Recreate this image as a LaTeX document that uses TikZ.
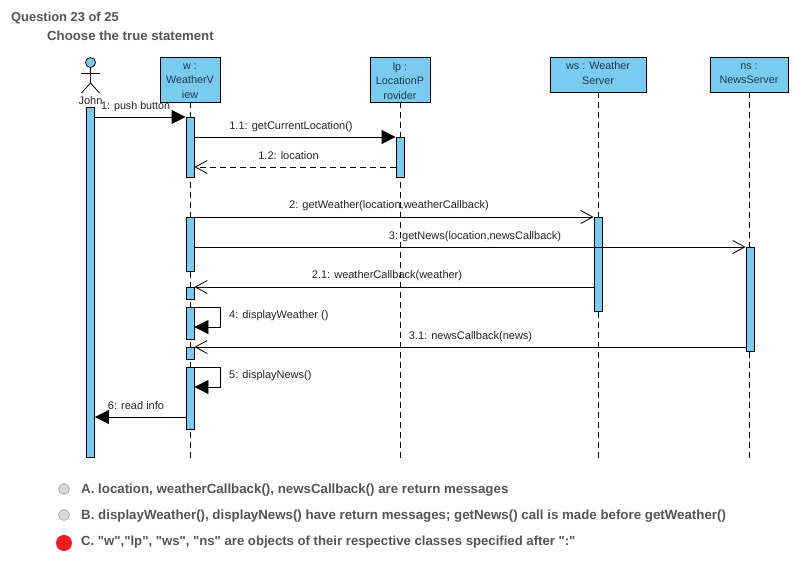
\documentclass[tikz,border=0pt]{standalone}
\usepackage{fontspec}
\setmainfont{Liberation Sans}
\newfontfamily\rawsans{Liberation Sans}
\usetikzlibrary{arrows.meta,calc}
\definecolor{lifeblue}{HTML}{7ACBF0}
\definecolor{boxtext}{HTML}{1F3A50}
\definecolor{qgrey}{HTML}{555555}
\definecolor{radiofill}{HTML}{D8D8D8}
\definecolor{radioline}{HTML}{B0B0B0}
\definecolor{picked}{HTML}{EC1C24}
\tikzset{
  x=1pt,y=-1pt,
  objbox/.style={draw=black,fill=lifeblue,line width=.9pt,inner sep=0pt,minimum width=#1},
  objlab/.style={align=center,text=boxtext,inner sep=0pt,font=\fontsize{10.8}{14.7}\selectfont},
  actbar/.style={draw=black,fill=lifeblue,line width=.9pt,minimum width=8pt,inner sep=0pt,anchor=north},
  lifel/.style={black,line width=.9pt,dash pattern=on 6pt off 4pt},
  syncm/.style={black,line width=.9pt,-{Triangle[length=14pt,width=14pt]}},
  asyncm/.style={black,line width=.8pt,-{Straight Barb[length=12pt,width=13pt,line width=.8pt]}},
  retm/.style={black,line width=.8pt,dash pattern=on 6pt off 4pt,-{Straight Barb[length=12pt,width=13pt,line width=.8pt]}},
  msg/.style={font=\fontsize{11}{12}\selectfont,text=black!85,inner sep=0pt,anchor=base},
  qtext/.style={font=\rawsans\bfseries\fontsize{13.3}{15}\selectfont,text=qgrey,inner sep=0pt,anchor=base west},
  radio/.style={circle,draw=radioline,line width=.8pt,fill=radiofill,minimum size=11pt,inner sep=0pt},
  actorpart/.style={black,line width=.8pt},
}
\begin{document}
\begin{tikzpicture}
\useasboundingbox (0,0) rectangle (798,565);
\fill[white] (0,0) rectangle (798,565);

\node[qtext,font=\rawsans\bfseries\fontsize{12.9}{15}\selectfont] (qnum) at (11,21) {Question 23 of 25};
\node[qtext,font=\rawsans\bfseries\fontsize{13.2}{15}\selectfont] (qsub) at (47,40) {Choose the true statement};

% object boxes
\node[objbox=60pt,minimum height=45pt,label={[objlab,yshift=-1.5pt]center:w :\\WeatherV\\iew}] (w) at (190,79.5) {};
\node[objbox=60pt,minimum height=45pt,label={[objlab,yshift=-1.5pt]center:lp :\\LocationP\\rovider}] (lp) at (400,79.5) {};
\node[objbox=96pt,minimum height=35pt,label={[objlab,yshift=1.5pt]center:ws : Weather\\Server}] (ws) at (598,74.5) {};
\node[objbox=78pt,minimum height=35pt,label={[objlab,yshift=1pt]center:ns :\\NewsServer}] (ns) at (749,74.5) {};

% lifeline ends
\coordinate (wend) at (190,458);
\coordinate (lpend) at (400,458);
\coordinate (wsend) at (598,458);
\coordinate (nsend) at (750,458);
\draw[lifel] (w.south) -- (wend);
\draw[lifel] (lp.south) -- (lpend);
\draw[lifel] (ws.south) -- (wsend);
\draw[lifel] (ns.south) -- (ns.south |- nsend);

% actor
\node[circle,draw=black,fill=lifeblue,line width=.8pt,minimum size=10pt,inner sep=0pt] (head) at (90.5,62.5) {};
\coordinate (hip) at (90.5,83);
\coordinate (armL) at (81,73.5);
\coordinate (armR) at (100,73.5);
\coordinate (footL) at (81.5,93);
\coordinate (footR) at (99.5,93);
\draw[actorpart] (head.south) -- (hip);
\draw[actorpart] (armL) -- (armR);
\draw[actorpart] (footL) -- (hip) -- (footR);
\node[msg] (john) at (90.5,104) {John};

% activation bars
\node[actbar,minimum height=350pt] (ja) at (90.5,107) {};
\node[actbar,minimum height=60pt] (wa) at (190,117) {};
\node[actbar,minimum height=54pt] (wb) at (190,217) {};
\node[actbar,minimum height=12pt] (wc) at (190,287) {};
\node[actbar,minimum height=32pt] (wd) at (190,307) {};
\node[actbar,minimum height=12pt] (we) at (190,347) {};
\node[actbar,minimum height=62pt] (wf) at (190,367) {};
\node[actbar,minimum height=40pt] (lpa) at (400,137) {};
\node[actbar,minimum height=94pt] (wsa) at (598,217) {};
\node[actbar,minimum height=104pt] (nsa) at (750,247) {};

% message y levels
\coordinate (y12) at (0,167);
\coordinate (y3) at (0,247);
\coordinate (y6) at (0,417);
\coordinate (s4) at (220,327);
\coordinate (s5) at (220,387);

% messages
\draw[syncm] (ja.east |- wa.north) -- (wa.north west);
\draw[syncm] (wa.east |- lpa.north) -- (lpa.north west);
\draw[retm] (lpa.west |- y12) -- (wa.east |- y12);
\draw[asyncm] (wb.north east) -- (wsa.north west);
\draw[asyncm] (wb.east |- y3) -- (nsa.north west);
\draw[asyncm] (wsa.west |- wc.north) -- (wc.north east);
\draw[asyncm] (nsa.west |- we.north) -- (we.north east);
\draw[syncm] (wd.north east) -- (s4 |- wd.north) -- (s4) -- (wd.east |- s4);
\draw[syncm] (wf.north east) -- (s5 |- wf.north) -- (s5) -- (wf.east |- s5);
\draw[syncm] (wf.west |- y6) -- (ja.east |- y6);

% message labels
\node[msg,anchor=base west,font=\fontsize{10.7}{12}\selectfont] (l1) at (101,109) {1: push button};
\node[msg] (l11) at (291,129) {1.1: getCurrentLocation()};
\node[msg] (l12) at (288.5,159) {1.2: location};
\node[msg] (l2) at (389,208) {2: getWeather(location,weatherCallback)};
\node[msg] (l3) at (475,239) {3: getNews(location,newsCallback)};
\node[msg] (l21) at (387,278) {2.1: weatherCallback(weather)};
\node[msg,anchor=base west] (l4) at (229,318) {4: displayWeather ()};
\node[msg] (l31) at (470.5,339) {3.1: newsCallback(news)};
\node[msg,anchor=base west] (l5) at (229,378) {5: displayNews()};
\node[msg] (l6) at (136,409) {6: read info};

% answers
\node[radio] (ra) at (64,489) {};
\node[radio] (rb) at (64,515) {};
\node[circle,fill=picked,minimum size=16pt,inner sep=0pt] (rc) at (64,543) {};
\node[qtext] (ta) at (81,493) {A. location, weatherCallback(), newsCallback() are return messages};
\node[qtext] (tb) at (81,519) {B. displayWeather(), displayNews() have return messages; getNews() call is made before getWeather()};
\node[qtext,font=\rawsans\bfseries\fontsize{13.15}{15}\selectfont] (tc) at (81,545) {C. "w","lp", "ws", "ns" are objects of their respective classes specified after ":"};
\end{tikzpicture}
\end{document}
